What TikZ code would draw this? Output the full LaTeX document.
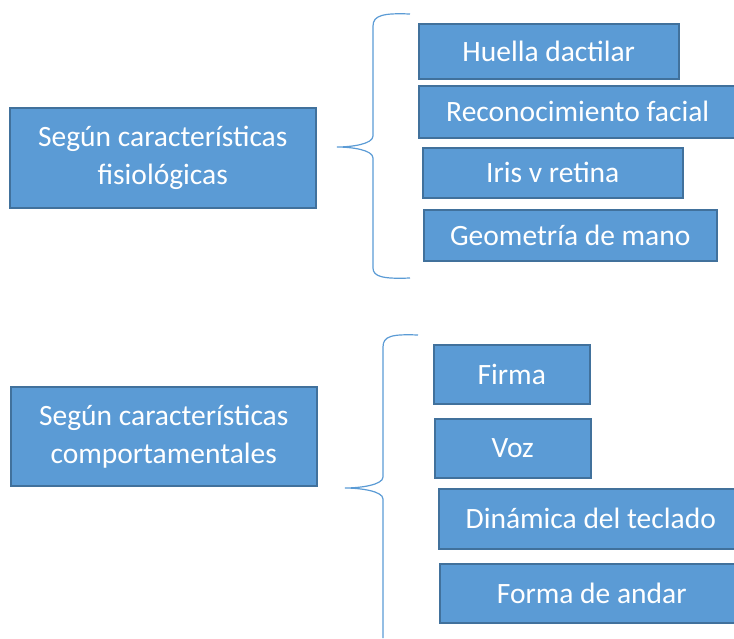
\documentclass[tikz,border=0pt]{standalone}
\usepackage{fontspec}
\setmainfont{Carlito}
\usepackage{tikz}
\usepackage{xcolor}
\definecolor{boxfill}{HTML}{5B9BD5}
\definecolor{boxline}{HTML}{41719C}

\begin{document}
\begin{tikzpicture}[x=1pt,y=-1pt,
    box/.style={draw=boxline,fill=boxfill,line width=1.5pt,text=white,anchor=north west,
                inner sep=0pt,align=center,font=\fontsize{29.5}{38}\selectfont},
    brace/.style={draw=boxfill,line width=1.2pt}]
    \useasboundingbox (0,0) rectangle (734,638);

    % Physiological group
    \node[box,minimum width=306,minimum height=100] (fisio) at (9,107)
        {Según características\\fisiológicas};
    \node[box,minimum width=260,minimum height=55] (huella) at (418,23) {Huella dactilar};
    \node[box,minimum width=318,minimum height=52] (facial) at (418,85) {Reconocimiento facial};
    \node[box,minimum width=260,minimum height=50] (iris) at (422,147) {Iris v retina};
    \node[box,minimum width=293,minimum height=51] (mano) at (423,209) {Geometría de mano};

    % Brace (top)
    \coordinate (tipA) at (337,147);
    \draw[brace] (410,14) .. controls (384,13) and (373,15) .. (373,26) -- (373,136)
        .. controls (373,144) and (352,147) .. (tipA)
        .. controls (352,147) and (373,150) .. (373,158) -- (373,268)
        .. controls (373,277) and (384,279) .. (410,278);

    % Behavioural group
    \node[box,minimum width=306,minimum height=99] (comport) at (10,386)
        {Según características\\comportamentales};
    \node[box,minimum width=156,minimum height=59] (firma) at (433,344) {Firma};
    \node[box,minimum width=156,minimum height=59] (voz) at (434,418) {Voz};
    \node[box,minimum width=304,minimum height=60] (teclado) at (438,488) {Dinámica del teclado};
    \node[box,minimum width=304,minimum height=59] (andar) at (439,563) {Forma de andar};

    % Brace (bottom)
    \coordinate (tipB) at (345,488);
    \draw[brace] (418,335) .. controls (392,334) and (383,336) .. (383,347) -- (383,477)
        .. controls (383,485) and (360,488) .. (tipB)
        .. controls (360,488) and (383,491) .. (383,499) -- (383,638);
\end{tikzpicture}
\end{document}
